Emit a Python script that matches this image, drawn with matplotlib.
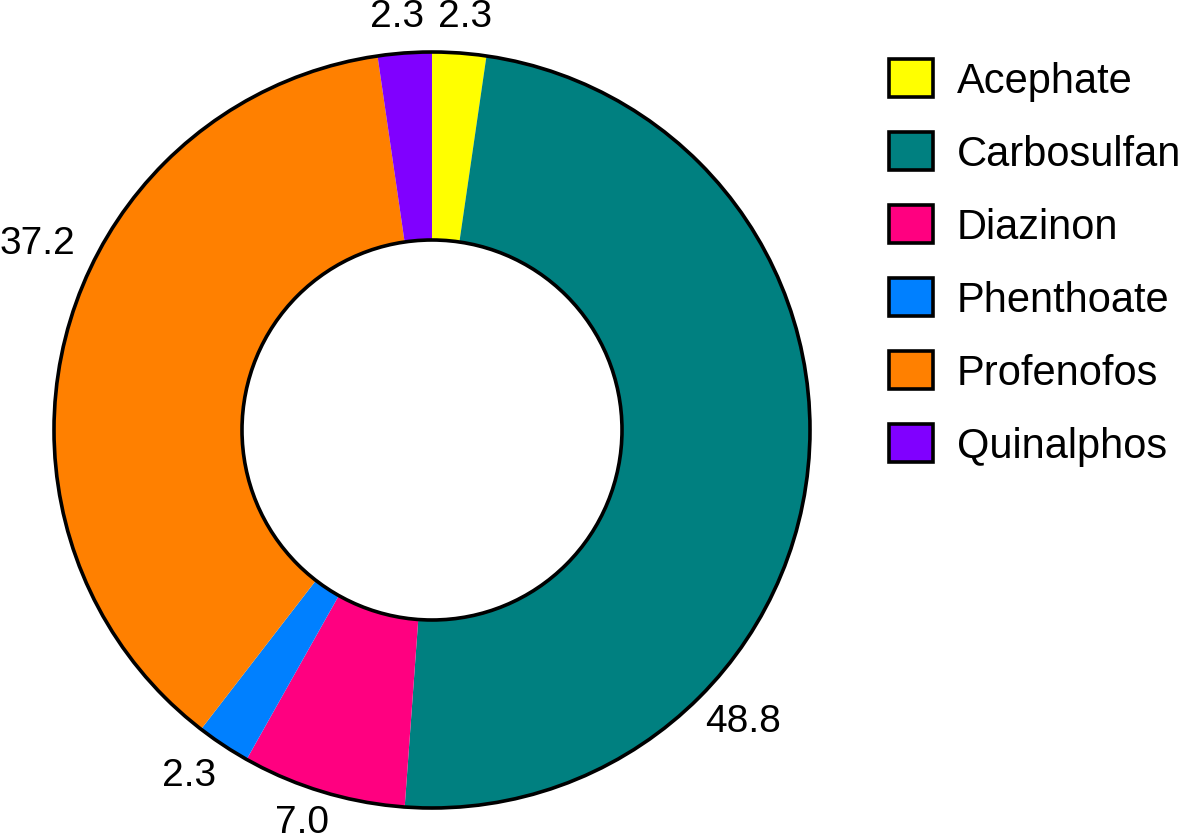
import matplotlib
matplotlib.use("Agg")
import matplotlib.pyplot as plt
from matplotlib.patches import Circle, Rectangle
import numpy as np

plt.rcParams['font.family'] = ['Liberation Sans', 'DejaVu Sans']

categories = ["Acephate", "Carbosulfan", "Diazinon", "Phenthoate", "Profenofos", "Quinalphos"]
values = [2.3, 48.8, 7.0, 2.3, 37.2, 2.3]
colors = ["#FFFF00", "#008080", "#FF0080", "#0080FF", "#FF8000", "#8000FF"]
value_labels = ["2.3", "48.8", "7.0", "2.3", "37.2", "2.3"]

W, H = 1181, 838
fig = plt.figure(figsize=(W / 100, H / 100), dpi=100)
ax = fig.add_axes([0, 0, 1, 1])

cx, cy = 432, H - 430
R = 378
ring = 188

wedges, _ = ax.pie(values, colors=colors, startangle=90, counterclock=False,
                   center=(cx, cy), radius=R,
                   wedgeprops=dict(width=ring, linewidth=0))

ax.add_patch(Circle((cx, cy), R, fill=False, edgecolor='black', linewidth=2.6, zorder=5))
ax.add_patch(Circle((cx, cy), R - ring, fill=False, edgecolor='black', linewidth=2.6, zorder=5))

# value labels
angle_offsets = [-0.5, -37, -1.5, -1.5, -10.5, 0.7]
label_r = [414, 427, 414, 423, 436, 414]
total = sum(values)
cum = np.cumsum([0] + values)
for i, w in enumerate(wedges):
    mid = 90 - (cum[i] + values[i] / 2) / total * 360 + angle_offsets[i]
    a = np.deg2rad(mid)
    ax.text(cx + label_r[i] * np.cos(a), cy + label_r[i] * np.sin(a), value_labels[i],
            ha='center', va='center', fontsize=28, color='black')

# legend
for i, (name, col) in enumerate(zip(categories, colors)):
    yc = H - (78 + i * 73)
    ax.add_patch(Rectangle((889, yc - 19), 44, 38, facecolor=col, edgecolor='black',
                           linewidth=2.6, zorder=5))
    ax.text(957, yc - 15, name, ha='left', va='baseline', fontsize=30, color='black')

ax.set_xlim(0, W)
ax.set_ylim(0, H)
ax.set_aspect('auto')
ax.axis('off')

fig.savefig("out.png", dpi=100)
